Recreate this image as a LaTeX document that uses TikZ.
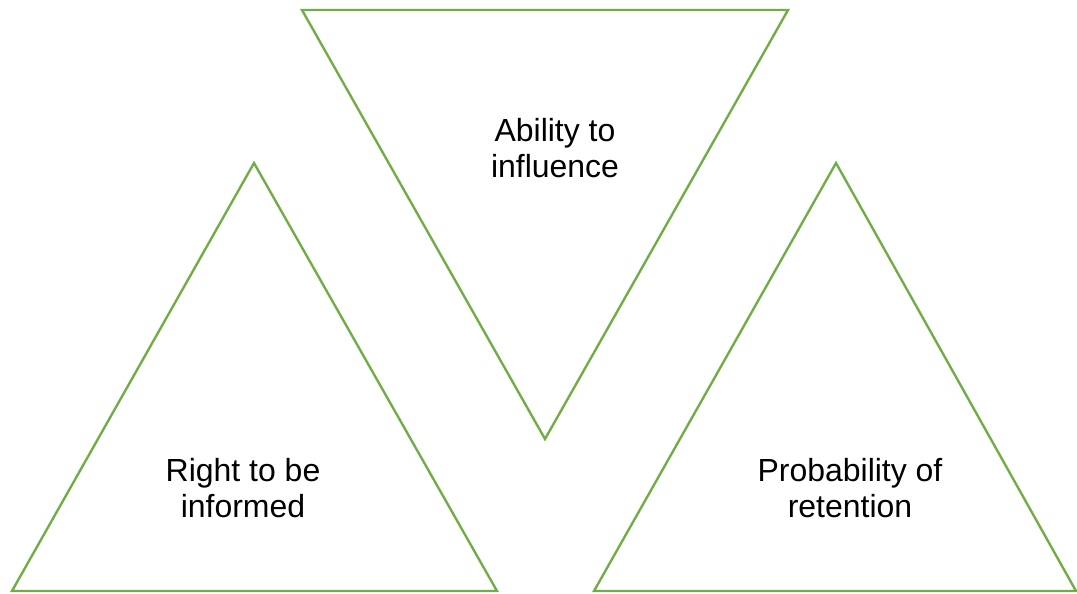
\documentclass[tikz,border=0pt]{standalone}
\usepackage{fontspec}
\setmainfont{Liberation Sans}
\usepackage{xcolor}
\definecolor{officegreen}{RGB}{112,173,71}
\usetikzlibrary{positioning}

\begin{document}
\begin{tikzpicture}[x=0.02cm,y=-0.02cm,
		tri/.style={draw=officegreen,line width=1.35pt,line join=miter},
		lbl/.style={align=center,font=\fontsize{18.2}{20.4}\selectfont,inner sep=0pt}]
		\useasboundingbox (0,0) rectangle (1077,593);
		%
		\draw[tri] (254,163) -- (497,591) -- (12,591) -- cycle;
		\draw[tri] (302,10) -- (788,10) -- (545,439) -- cycle;
		\draw[tri] (836,163) -- (1076,591) -- (594,591) -- cycle;
		%
		\node[lbl] (inform) at (243,488) {Right to be\\informed};
		\node[lbl] (influence) at (555,148) {Ability to\\influence};
		\node[lbl] (retain) at (850,488) {Probability of\\retention};
\end{tikzpicture}
\end{document}
